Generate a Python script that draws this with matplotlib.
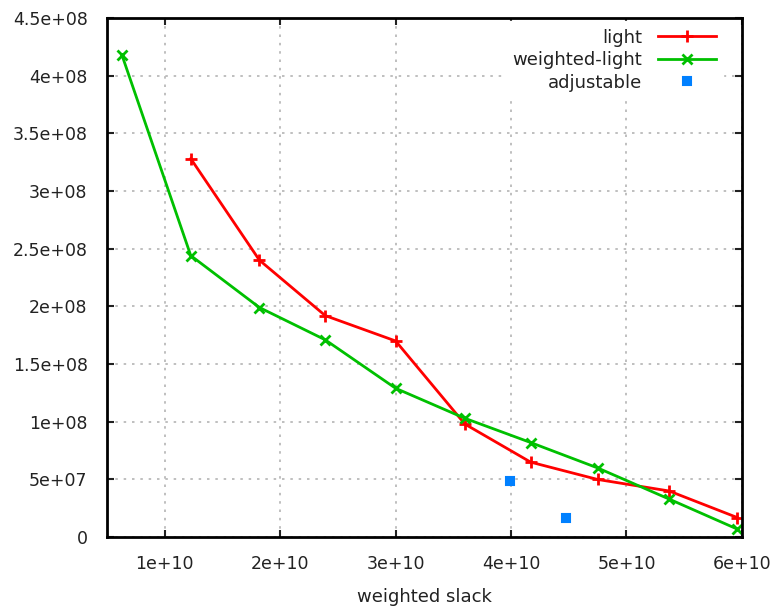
import matplotlib
matplotlib.use("Agg")
import matplotlib.pyplot as plt
from matplotlib.ticker import FuncFormatter

# data
light_x = [1.225e10, 1.82e10, 2.39e10, 3.0e10, 3.6e10, 4.17e10, 4.75e10, 5.37e10, 5.96e10]
light_y = [3.28e8, 2.40e8, 1.92e8, 1.70e8, 0.98e8, 0.65e8, 0.50e8, 0.40e8, 0.17e8]

wlight_x = [0.628e10, 1.225e10, 1.82e10, 2.39e10, 3.0e10, 3.6e10, 4.17e10, 4.75e10, 5.37e10, 5.96e10]
wlight_y = [4.18e8, 2.44e8, 1.99e8, 1.71e8, 1.29e8, 1.03e8, 0.82e8, 0.60e8, 0.33e8, 0.07e8]

adj_x = [3.99e10, 4.48e10]
adj_y = [0.49e8, 0.17e8]

xticks = [1e10, 2e10, 3e10, 4e10, 5e10, 6e10]
yticks = [0, 0.5e8, 1e8, 1.5e8, 2e8, 2.5e8, 3e8, 3.5e8, 4e8, 4.5e8]

plt.rcParams['font.family'] = ['DejaVu Sans']
fig = plt.figure(figsize=(7.76, 6.16), dpi=100)
ax = fig.add_axes([0.138, 0.128, 0.818, 0.843])

ax.plot(light_x, light_y, color="#ff0000", lw=2, marker="+", ms=9, mew=2, label="light")
ax.plot(wlight_x, wlight_y, color="#00c000", lw=2, marker="x", ms=7, mew=2, label="weighted-light")
ax.plot(adj_x, adj_y, ls="none", color="#0080ff", marker="s", ms=6, mew=1.5, label="adjustable")

ax.set_xlim(5e9, 6e10)
ax.set_ylim(0, 4.5e8)
ax.set_xticks(xticks)
ax.set_yticks(yticks)
fmt = FuncFormatter(lambda v, p: "%g" % v)
ax.xaxis.set_major_formatter(fmt)
ax.yaxis.set_major_formatter(fmt)
ax.tick_params(direction="in", length=5, width=1.5, top=True, right=True, labelsize=12.5, colors="#222222")
ax.tick_params(axis="y", pad=14)
ax.tick_params(axis="x", pad=12.5)
for s in ax.spines.values():
    s.set_linewidth(2)
ax.grid(True, ls=(0, (1.5, 3.5)), color="#b4b4b4", lw=1.2)
ax.set_xlabel("weighted slack", fontsize=13, labelpad=11, color="#222222")

leg = ax.legend(loc="upper right", bbox_to_anchor=(0.976, 1.0), markerfirst=False, frameon=True,
                fontsize=13, handlelength=3.2, borderaxespad=0.2, labelspacing=0.25,
                handletextpad=0.9, fancybox=False)
leg.get_frame().set_edgecolor("white")
leg.get_frame().set_alpha(1)
for t in leg.get_texts():
    t.set_color("#222222")

fig.savefig("out.png", dpi=100)
